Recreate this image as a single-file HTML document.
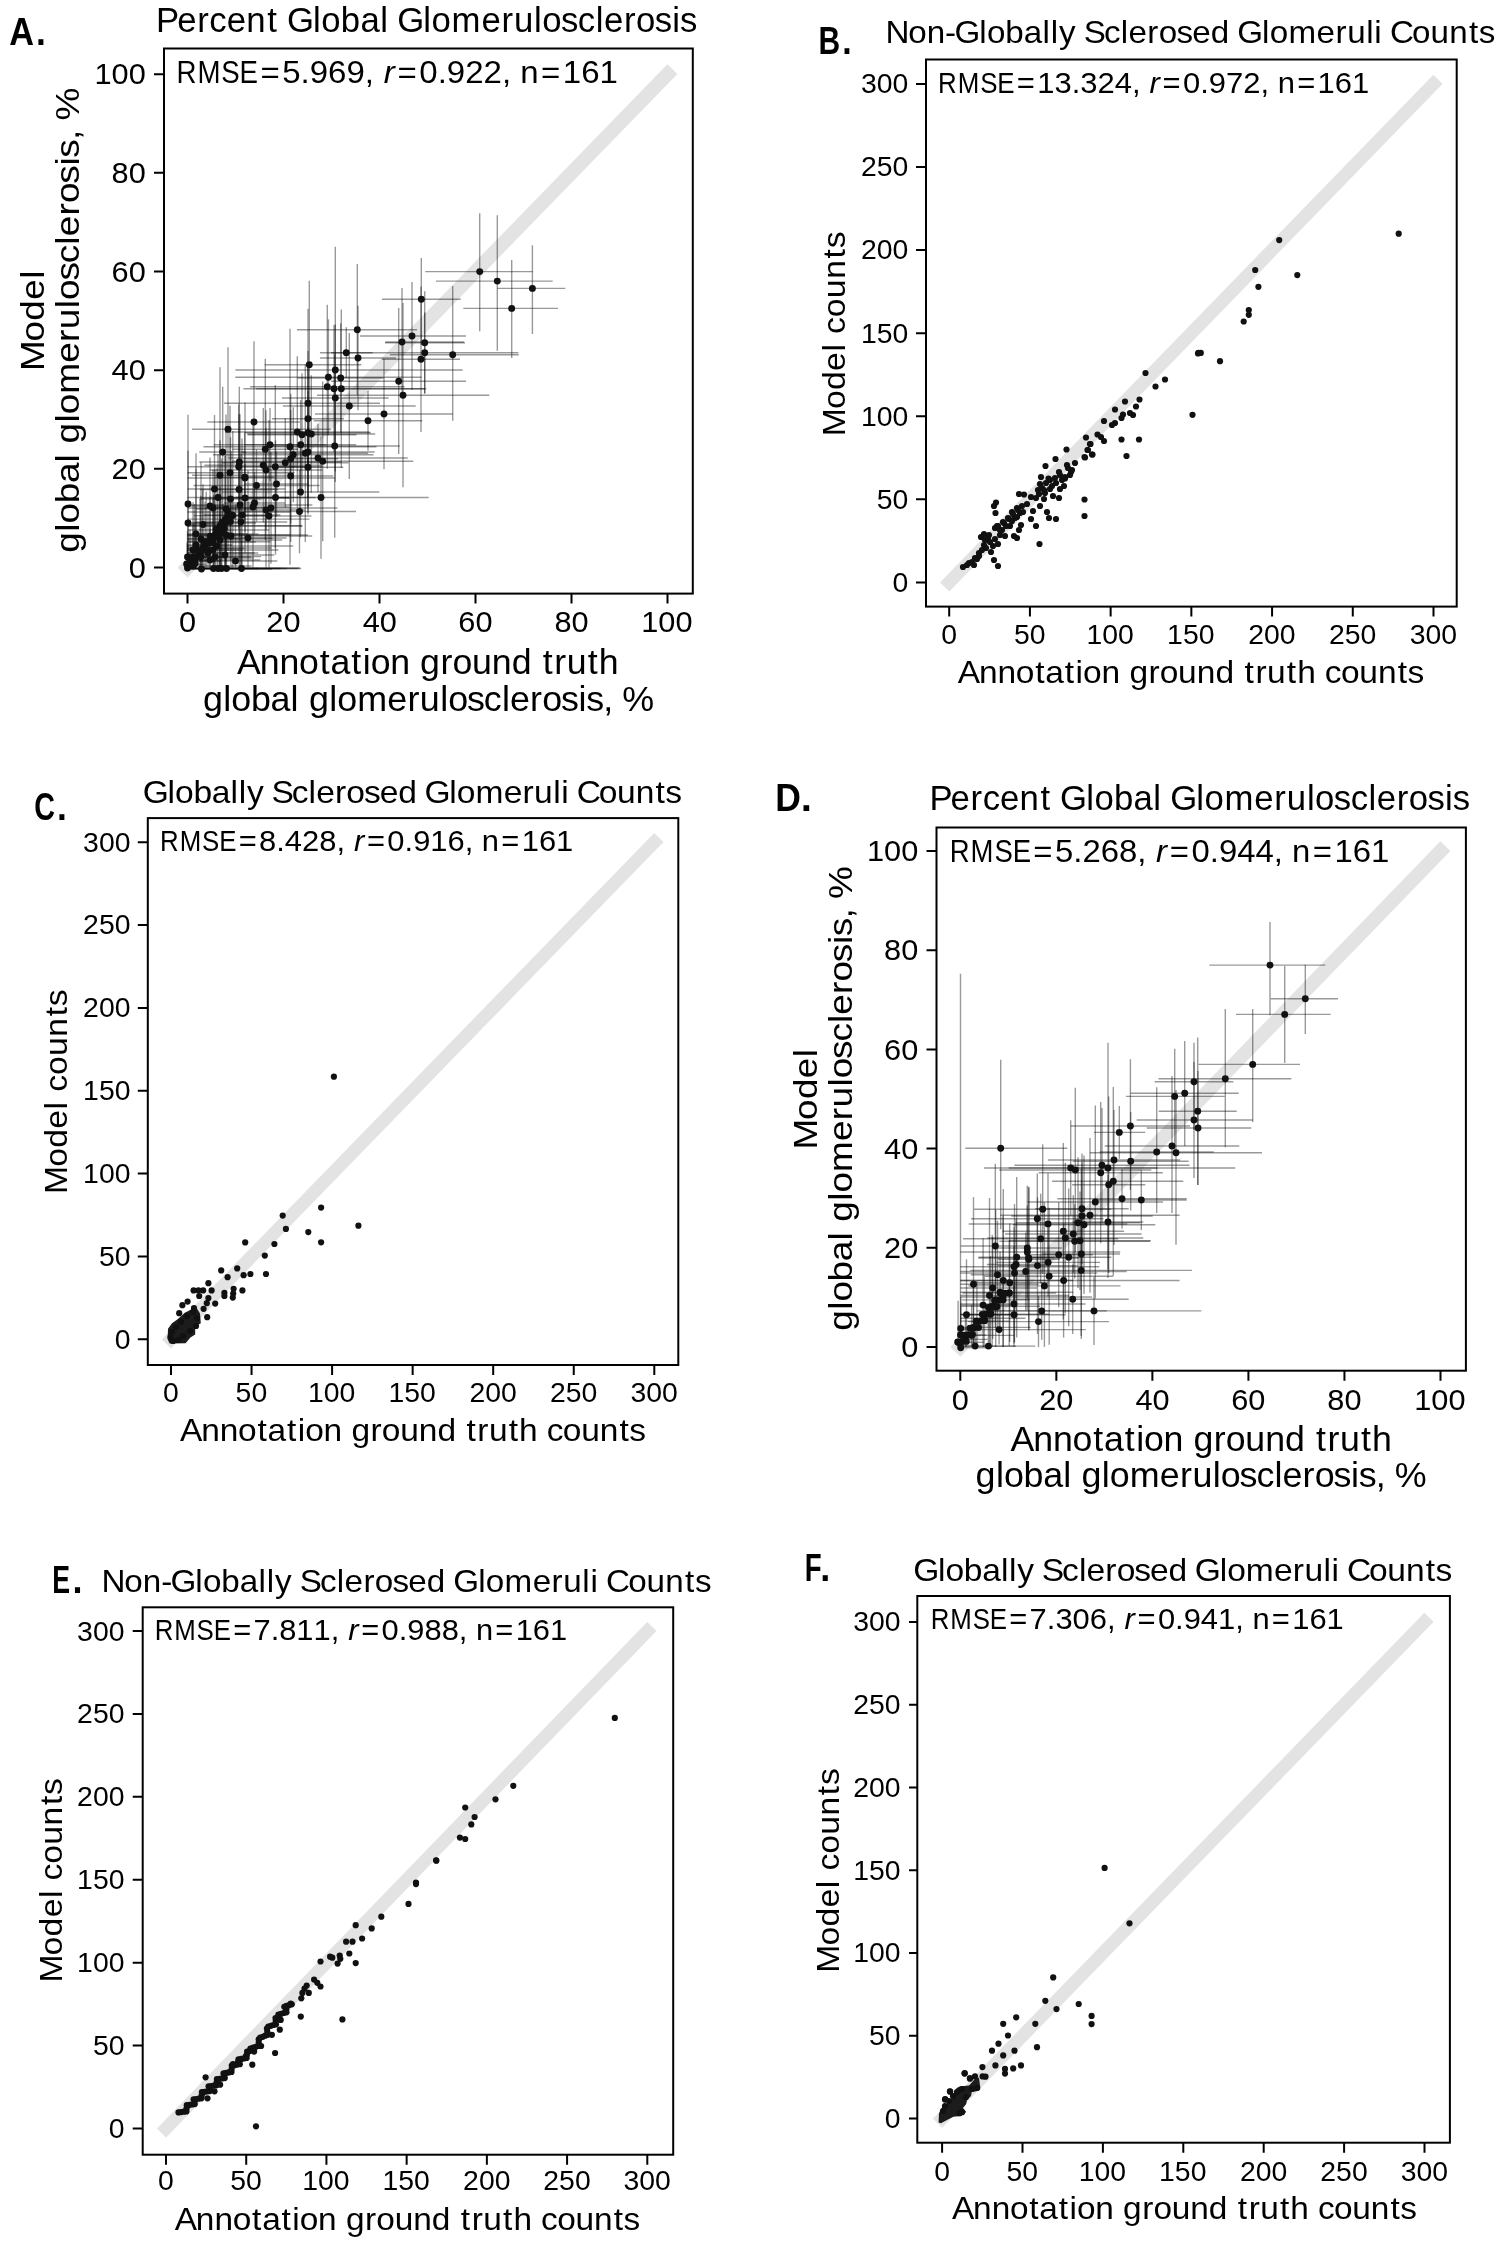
<!DOCTYPE html>
<html><head><meta charset="utf-8"><title>Glomerulosclerosis model vs annotation</title>
<style>
html,body{margin:0;padding:0;background:#fff;width:1500px;height:2244px;overflow:hidden}
svg{display:block;filter:blur(0.4px)}
text{font-family:"Liberation Sans", sans-serif;fill:#000}
</style></head>
<body>
<svg width="1500" height="2244" viewBox="0 0 1500 2244">
<rect width="1500" height="2244" fill="#fff"/>
<g id="panelA">
<line x1="187.5" y1="567.5" x2="667.5" y2="74.2" stroke="#e3e3e3" stroke-width="14" stroke-linecap="square"/>
<g stroke="#000" stroke-opacity="0.4" stroke-width="1.4" fill="none">
<path d="M425.3 271.6H532.7"/>
<path d="M479.7 213.3V331.3"/>
<path d="M436 281.1H552.7"/>
<path d="M497.3 215.3V350.7"/>
<path d="M497.3 288.4H565.3"/>
<path d="M532.4 245.3V334"/>
<path d="M463.3 308.4H558"/>
<path d="M511.7 260V358"/>
<path d="M382 299.3H460.7"/>
<path d="M421.3 258V345"/>
<path d="M390 354.7H518.7"/>
<path d="M452.7 286V420.7"/>
<path d="M360 336H466"/>
<path d="M412 282V390"/>
<path d="M385.3 342H464"/>
<path d="M402 288V396"/>
<path d="M385 342.7H465"/>
<path d="M424.7 291.3V394"/>
<path d="M331 352.7H518.4"/>
<path d="M424.7 312.5V392.9"/>
<path d="M382 359.3H460"/>
<path d="M421 286.7V431.9"/>
<path d="M297 329.7H417"/>
<path d="M357.3 264V395"/>
<path d="M320 352.7H372.6"/>
<path d="M346.3 327.3V378.1"/>
<path d="M319.9 358H396.1"/>
<path d="M358 305.7V410.3"/>
<path d="M331 381.3H466"/>
<path d="M398.7 308V454"/>
<path d="M317 395.3H489.3"/>
<path d="M403 303V487.3"/>
<path d="M315 414H452.7"/>
<path d="M384 359V469.3"/>
<path d="M313.7 420.7H422.3"/>
<path d="M368 391V450.7"/>
<path d="M235.3 370H462.7"/>
<path d="M335.3 246.7V482"/>
<path d="M264.7 364.7H361.3"/>
<path d="M309.3 280.7V448.7"/>
<path d="M235.2 377.3H421.6"/>
<path d="M328.4 319.3V435.3"/>
<path d="M297.8 378H383.6"/>
<path d="M340.7 323.3V432.7"/>
<path d="M250.1 386.7H404.5"/>
<path d="M327.3 304.7V468.7"/>
<path d="M243.4 388.7H424.6"/>
<path d="M334 324.9V452.5"/>
<path d="M256.2 388.7H426.4"/>
<path d="M341.3 309.4V468"/>
<path d="M281.9 398H388.7"/>
<path d="M335.3 324.5V471.5"/>
<path d="M224 403.3H380"/>
<path d="M308 308.7V497.9"/>
<path d="M282.9 406H415.7"/>
<path d="M349.3 333V479"/>
<path d="M272 418.7H344"/>
<path d="M308 367.7V469.7"/>
<path d="M207.3 422H300"/>
<path d="M254 341.3V502.7"/>
<path d="M192 429.3H330.7"/>
<path d="M228 347.3V511.3"/>
<path d="M225 432H369.6"/>
<path d="M297.3 356.3V507.7"/>
<path d="M247.4 434.7H356.6"/>
<path d="M302 373.3V496.1"/>
<path d="M245.2 432.7H370.8"/>
<path d="M308 351V514.4"/>
<path d="M247.4 434H375.2"/>
<path d="M311.3 375.2V492.8"/>
<path d="M213.6 444.7H326.4"/>
<path d="M270 408.1V481.3"/>
<path d="M232.5 449.3H298.1"/>
<path d="M265.3 358.7V539.9"/>
<path d="M203.5 446.7H376.5"/>
<path d="M290 328.7V564.7"/>
<path d="M245.2 444.7H356.2"/>
<path d="M300.7 399.9V489.5"/>
<path d="M269.6 446H399.8"/>
<path d="M334.7 354.3V537.7"/>
<path d="M199.3 452H246.1"/>
<path d="M222.7 386.7V517.3"/>
<path d="M213 454.7H373.6"/>
<path d="M293.3 407.2V502.2"/>
<path d="M242.5 453.3H368.1"/>
<path d="M305.3 364.5V542.1"/>
<path d="M241.3 452H374.7"/>
<path d="M308 391.3V512.7"/>
<path d="M243.2 458.7H338.2"/>
<path d="M290.7 393.8V523.6"/>
<path d="M228.2 458H407.8"/>
<path d="M318 423.7V492.3"/>
<path d="M232.1 461.3H413.3"/>
<path d="M322.7 381.4V541.2"/>
<path d="M199.3 462H341.3"/>
<path d="M239.3 386.7V537.3"/>
<path d="M187.5 466.7H322.7"/>
<path d="M238.7 404.6V528.8"/>
<path d="M204.4 465.3H322.2"/>
<path d="M263.3 408.1V522.5"/>
<path d="M240.8 466.7H309.8"/>
<path d="M275.3 385.1V548.3"/>
<path d="M222.1 462.7H348.5"/>
<path d="M285.3 417.9V507.5"/>
<path d="M209.5 470H322.5"/>
<path d="M266 410.2V529.8"/>
<path d="M272.7 467.3H343.3"/>
<path d="M308 427.3V507.3"/>
<path d="M187.5 472.7H294.7"/>
<path d="M230 405.8V539.6"/>
<path d="M192 475.3H248"/>
<path d="M220 367.3V567.5"/>
<path d="M215.1 477.3H274.3"/>
<path d="M244.7 432.5V522.1"/>
<path d="M248.2 476H333.2"/>
<path d="M290.7 410V542"/>
<path d="M187.5 478H334.8"/>
<path d="M245 402.6V553.4"/>
<path d="M187.5 489H285.5"/>
<path d="M214.5 415V563"/>
<path d="M199.7 489.5H278.3"/>
<path d="M239 414.3V564.7"/>
<path d="M193.5 485.5H319.5"/>
<path d="M256.5 449.4V521.6"/>
<path d="M244 484H309"/>
<path d="M276.5 451.4V516.6"/>
<path d="M187.5 497.5H289"/>
<path d="M218 454.4V540.6"/>
<path d="M199.4 499H261.6"/>
<path d="M230.5 437.2V560.8"/>
<path d="M200.4 498H289.6"/>
<path d="M245 464.1V531.9"/>
<path d="M235.5 497.5H315.5"/>
<path d="M275.5 440.3V554.7"/>
<path d="M221.7 492H379.3"/>
<path d="M300.5 446.9V537.1"/>
<path d="M213.3 497.5H428.7"/>
<path d="M321 436.3V558.7"/>
<path d="M187.5 504H188.5"/>
<path d="M188 414.7V567.5"/>
<path d="M187.5 506H240.4"/>
<path d="M210 457.6V554.4"/>
<path d="M187.5 508H264.2"/>
<path d="M213 469.7V546.3"/>
<path d="M195.8 509H256.2"/>
<path d="M226 414.6V567.5"/>
<path d="M187.5 512H290.4"/>
<path d="M228 473.3V550.7"/>
<path d="M187.5 505H312.4"/>
<path d="M240 414.2V567.5"/>
<path d="M224 503H285"/>
<path d="M254.5 472.3V533.7"/>
<path d="M216.5 507H289.5"/>
<path d="M253 423.2V567.5"/>
<path d="M227.1 510H304.9"/>
<path d="M266 428.2V567.5"/>
<path d="M204.6 508H337.4"/>
<path d="M271 452.3V563.7"/>
<path d="M226.6 516H311.4"/>
<path d="M269 420V567.5"/>
<path d="M243 511.5H356"/>
<path d="M299.5 469.7V553.3"/>
<path d="M203.6 515H280.4"/>
<path d="M242 438.5V567.5"/>
<path d="M194.8 522H287.2"/>
<path d="M241 452.6V567.5"/>
<path d="M187.5 523H214.3"/>
<path d="M188 450.7V567.5"/>
<path d="M187.5 524.5H232.5"/>
<path d="M203 484.3V564.7"/>
<path d="M187.5 534H258.4"/>
<path d="M196 453.3V567.5"/>
<path d="M187.5 539H240.5"/>
<path d="M201 462.3V567.5"/>
<path d="M187.5 545H232.2"/>
<path d="M196 468.4V567.5"/>
<path d="M187.5 550H242.6"/>
<path d="M193 502.2V567.5"/>
<path d="M187.5 530H269.3"/>
<path d="M223 503.7V556.3"/>
<path d="M187.5 535H308"/>
<path d="M226 508.4V561.6"/>
<path d="M187.5 536H312.2"/>
<path d="M231 451.8V567.5"/>
<path d="M187.5 540H282.2"/>
<path d="M220 499.8V567.5"/>
<path d="M187.5 546H293.2"/>
<path d="M217 468.5V567.5"/>
<path d="M187.5 550H278.4"/>
<path d="M213 497.9V567.5"/>
<path d="M187.5 553H254.6"/>
<path d="M208 510.2V567.5"/>
<path d="M209.4 538H286.6"/>
<path d="M248 470.4V567.5"/>
<path d="M187.5 560H260.3"/>
<path d="M210 528.4V567.5"/>
<path d="M187.5 557H251"/>
<path d="M215 503.4V567.5"/>
<path d="M187.5 555H274.4"/>
<path d="M225 506.8V567.5"/>
<path d="M193.7 561H277.3"/>
<path d="M235.5 503.9V567.5"/>
<path d="M187.5 557H224.9"/>
<path d="M187.5 530.8V567.5"/>
<path d="M187.5 568H300"/>
<path d="M187.5 544.2V567.5"/>
<path d="M187.5 566H251.6"/>
<path d="M193 521.7V567.5"/>
<path d="M187.5 569H272"/>
<path d="M201.5 548.1V567.5"/>
<path d="M187.5 568.5H259"/>
<path d="M213.5 531.6V567.5"/>
<path d="M187.5 568.5H298.2"/>
<path d="M218 544.3V567.5"/>
<path d="M187.5 568.5H301.2"/>
<path d="M221.5 535.5V567.5"/>
<path d="M187.5 568.5H286.9"/>
<path d="M226.5 527.8V567.5"/>
<path d="M202.7 568.5H280.3"/>
<path d="M241.5 534.5V567.5"/>
<path d="M187.5 560H212.6"/>
<path d="M190 529.4V567.5"/>
<path d="M187.5 558H253.8"/>
<path d="M195 524.2V567.5"/>
<path d="M187.5 553H258.2"/>
<path d="M200 498.8V567.5"/>
<path d="M187.5 548H271.3"/>
<path d="M205 501.4V567.5"/>
<path d="M187.5 542H255.8"/>
<path d="M210 496.4V567.5"/>
<path d="M187.5 535H289.9"/>
<path d="M215 469.6V567.5"/>
<path d="M187.5 526H302.7"/>
<path d="M220 440.2V567.5"/>
<path d="M193.8 523H256.2"/>
<path d="M225 455.4V567.5"/>
<path d="M187.5 564.4H204.7"/>
<path d="M187.1 542.2V567.5"/>
<path d="M187.5 561H220.4"/>
<path d="M194.5 504V567.5"/>
<path d="M187.5 556.6H261.1"/>
<path d="M200.8 495.7V567.5"/>
<path d="M187.5 548.4H244.5"/>
<path d="M202.6 490.1V567.5"/>
<path d="M187.5 541.7H270.7"/>
<path d="M206.2 491.5V567.5"/>
<path d="M187.5 538.3H272.7"/>
<path d="M213.7 494.7V567.5"/>
<path d="M192.1 533.9H247.8"/>
<path d="M220 486.5V567.5"/>
<path d="M187.5 525.7H302"/>
<path d="M221.7 458.4V567.5"/>
<path d="M187.5 519.1H309.5"/>
<path d="M225.3 455.6V567.5"/>
<path d="M193.8 515.6H271.8"/>
<path d="M232.8 431V567.5"/>
</g>
<g fill="#111">
<circle cx="479.7" cy="271.6" r="3.45"/>
<circle cx="497.3" cy="281.1" r="3.45"/>
<circle cx="532.4" cy="288.4" r="3.45"/>
<circle cx="511.7" cy="308.4" r="3.45"/>
<circle cx="421.3" cy="299.3" r="3.45"/>
<circle cx="452.7" cy="354.7" r="3.45"/>
<circle cx="412" cy="336" r="3.45"/>
<circle cx="402" cy="342" r="3.45"/>
<circle cx="424.7" cy="342.7" r="3.45"/>
<circle cx="424.7" cy="352.7" r="3.45"/>
<circle cx="421" cy="359.3" r="3.45"/>
<circle cx="357.3" cy="329.7" r="3.45"/>
<circle cx="346.3" cy="352.7" r="3.45"/>
<circle cx="358" cy="358" r="3.45"/>
<circle cx="398.7" cy="381.3" r="3.45"/>
<circle cx="403" cy="395.3" r="3.45"/>
<circle cx="384" cy="414" r="3.45"/>
<circle cx="368" cy="420.7" r="3.45"/>
<circle cx="335.3" cy="370" r="3.45"/>
<circle cx="309.3" cy="364.7" r="3.45"/>
<circle cx="328.4" cy="377.3" r="3.45"/>
<circle cx="340.7" cy="378" r="3.45"/>
<circle cx="327.3" cy="386.7" r="3.45"/>
<circle cx="334" cy="388.7" r="3.45"/>
<circle cx="341.3" cy="388.7" r="3.45"/>
<circle cx="335.3" cy="398" r="3.45"/>
<circle cx="308" cy="403.3" r="3.45"/>
<circle cx="349.3" cy="406" r="3.45"/>
<circle cx="308" cy="418.7" r="3.45"/>
<circle cx="254" cy="422" r="3.45"/>
<circle cx="228" cy="429.3" r="3.45"/>
<circle cx="297.3" cy="432" r="3.45"/>
<circle cx="302" cy="434.7" r="3.45"/>
<circle cx="308" cy="432.7" r="3.45"/>
<circle cx="311.3" cy="434" r="3.45"/>
<circle cx="270" cy="444.7" r="3.45"/>
<circle cx="265.3" cy="449.3" r="3.45"/>
<circle cx="290" cy="446.7" r="3.45"/>
<circle cx="300.7" cy="444.7" r="3.45"/>
<circle cx="334.7" cy="446" r="3.45"/>
<circle cx="222.7" cy="452" r="3.45"/>
<circle cx="293.3" cy="454.7" r="3.45"/>
<circle cx="305.3" cy="453.3" r="3.45"/>
<circle cx="308" cy="452" r="3.45"/>
<circle cx="290.7" cy="458.7" r="3.45"/>
<circle cx="318" cy="458" r="3.45"/>
<circle cx="322.7" cy="461.3" r="3.45"/>
<circle cx="239.3" cy="462" r="3.45"/>
<circle cx="238.7" cy="466.7" r="3.45"/>
<circle cx="263.3" cy="465.3" r="3.45"/>
<circle cx="275.3" cy="466.7" r="3.45"/>
<circle cx="285.3" cy="462.7" r="3.45"/>
<circle cx="266" cy="470" r="3.45"/>
<circle cx="308" cy="467.3" r="3.45"/>
<circle cx="230" cy="472.7" r="3.45"/>
<circle cx="220" cy="475.3" r="3.45"/>
<circle cx="244.7" cy="477.3" r="3.45"/>
<circle cx="290.7" cy="476" r="3.45"/>
<circle cx="245" cy="478" r="3.45"/>
<circle cx="214.5" cy="489" r="3.45"/>
<circle cx="239" cy="489.5" r="3.45"/>
<circle cx="256.5" cy="485.5" r="3.45"/>
<circle cx="276.5" cy="484" r="3.45"/>
<circle cx="218" cy="497.5" r="3.45"/>
<circle cx="230.5" cy="499" r="3.45"/>
<circle cx="245" cy="498" r="3.45"/>
<circle cx="275.5" cy="497.5" r="3.45"/>
<circle cx="300.5" cy="492" r="3.45"/>
<circle cx="321" cy="497.5" r="3.45"/>
<circle cx="188" cy="504" r="3.45"/>
<circle cx="210" cy="506" r="3.45"/>
<circle cx="213" cy="508" r="3.45"/>
<circle cx="226" cy="509" r="3.45"/>
<circle cx="228" cy="512" r="3.45"/>
<circle cx="240" cy="505" r="3.45"/>
<circle cx="254.5" cy="503" r="3.45"/>
<circle cx="253" cy="507" r="3.45"/>
<circle cx="266" cy="510" r="3.45"/>
<circle cx="271" cy="508" r="3.45"/>
<circle cx="269" cy="516" r="3.45"/>
<circle cx="299.5" cy="511.5" r="3.45"/>
<circle cx="242" cy="515" r="3.45"/>
<circle cx="241" cy="522" r="3.45"/>
<circle cx="188" cy="523" r="3.45"/>
<circle cx="203" cy="524.5" r="3.45"/>
<circle cx="196" cy="534" r="3.45"/>
<circle cx="201" cy="539" r="3.45"/>
<circle cx="196" cy="545" r="3.45"/>
<circle cx="193" cy="550" r="3.45"/>
<circle cx="223" cy="530" r="3.45"/>
<circle cx="226" cy="535" r="3.45"/>
<circle cx="231" cy="536" r="3.45"/>
<circle cx="220" cy="540" r="3.45"/>
<circle cx="217" cy="546" r="3.45"/>
<circle cx="213" cy="550" r="3.45"/>
<circle cx="208" cy="553" r="3.45"/>
<circle cx="248" cy="538" r="3.45"/>
<circle cx="210" cy="560" r="3.45"/>
<circle cx="215" cy="557" r="3.45"/>
<circle cx="225" cy="555" r="3.45"/>
<circle cx="235.5" cy="561" r="3.45"/>
<circle cx="187.5" cy="557" r="3.45"/>
<circle cx="187.5" cy="568" r="3.45"/>
<circle cx="193" cy="566" r="3.45"/>
<circle cx="201.5" cy="569" r="3.45"/>
<circle cx="213.5" cy="568.5" r="3.45"/>
<circle cx="218" cy="568.5" r="3.45"/>
<circle cx="221.5" cy="568.5" r="3.45"/>
<circle cx="226.5" cy="568.5" r="3.45"/>
<circle cx="241.5" cy="568.5" r="3.45"/>
<circle cx="190" cy="560" r="3.45"/>
<circle cx="195" cy="558" r="3.45"/>
<circle cx="200" cy="553" r="3.45"/>
<circle cx="205" cy="548" r="3.45"/>
<circle cx="210" cy="542" r="3.45"/>
<circle cx="215" cy="535" r="3.45"/>
<circle cx="220" cy="526" r="3.45"/>
<circle cx="225" cy="523" r="3.45"/>
<circle cx="187.1" cy="564.4" r="3.45"/>
<circle cx="194.5" cy="561" r="3.45"/>
<circle cx="200.8" cy="556.6" r="3.45"/>
<circle cx="202.6" cy="548.4" r="3.45"/>
<circle cx="206.2" cy="541.7" r="3.45"/>
<circle cx="213.7" cy="538.3" r="3.45"/>
<circle cx="220" cy="533.9" r="3.45"/>
<circle cx="221.7" cy="525.7" r="3.45"/>
<circle cx="225.3" cy="519.1" r="3.45"/>
<circle cx="232.8" cy="515.6" r="3.45"/>
<circle cx="186.71" cy="564.07" r="3.45"/>
<circle cx="190.95" cy="563.68" r="3.45"/>
<circle cx="195.2" cy="563.3" r="3.45"/>
<circle cx="192.57" cy="557.11" r="3.45"/>
<circle cx="196.82" cy="556.73" r="3.45"/>
<circle cx="201.07" cy="556.34" r="3.45"/>
<circle cx="198.43" cy="550.16" r="3.45"/>
<circle cx="202.68" cy="549.77" r="3.45"/>
<circle cx="206.93" cy="549.39" r="3.45"/>
<circle cx="204.3" cy="543.2" r="3.45"/>
<circle cx="208.55" cy="542.82" r="3.45"/>
<circle cx="212.79" cy="542.43" r="3.45"/>
<circle cx="210.16" cy="536.25" r="3.45"/>
<circle cx="214.41" cy="535.86" r="3.45"/>
<circle cx="218.66" cy="535.48" r="3.45"/>
<circle cx="216.02" cy="529.29" r="3.45"/>
<circle cx="220.27" cy="528.91" r="3.45"/>
<circle cx="224.52" cy="528.52" r="3.45"/>
<circle cx="221.89" cy="522.34" r="3.45"/>
<circle cx="226.14" cy="521.95" r="3.45"/>
<circle cx="230.38" cy="521.57" r="3.45"/>
<circle cx="227.75" cy="515.38" r="3.45"/>
<circle cx="232" cy="515" r="3.45"/>
</g>
<rect x="164" y="48.5" width="528.8" height="545.1" fill="none" stroke="#000" stroke-width="2"/>
<path d="M187.5 593.6v10M164 567.5h-10M283.5 593.6v10M164 468.84h-10M379.5 593.6v10M164 370.18h-10M475.5 593.6v10M164 271.52h-10M571.5 593.6v10M164 172.86h-10M667.5 593.6v10M164 74.2h-10" stroke="#000" stroke-width="2" fill="none"/>
<text transform="scale(1.05049,1)" x="170.36" y="632.2" font-size="29.24">0</text>
<text transform="scale(1.05049,1)" x="122.51" y="577.7" font-size="29.24">0</text>
<text transform="scale(1.05049,1)" x="253.52 269.79" y="632.2" font-size="29.24">20</text>
<text transform="scale(1.05049,1)" x="106.25 122.51" y="479.04" font-size="29.24">20</text>
<text transform="scale(1.05049,1)" x="345.22 361.48" y="632.2" font-size="29.24">40</text>
<text transform="scale(1.05049,1)" x="106.25 122.51" y="380.38" font-size="29.24">40</text>
<text transform="scale(1.05049,1)" x="436.34 452.6" y="632.2" font-size="29.24">60</text>
<text transform="scale(1.05049,1)" x="106.25 122.51" y="281.72" font-size="29.24">60</text>
<text transform="scale(1.05049,1)" x="527.75 544.01" y="632.2" font-size="29.24">80</text>
<text transform="scale(1.05049,1)" x="106.25 122.51" y="183.06" font-size="29.24">80</text>
<text transform="scale(1.05049,1)" x="610.47 626.73 642.99" y="632.2" font-size="29.24">100</text>
<text transform="scale(1.05049,1)" x="89.99 106.25 122.51" y="84.4" font-size="29.24">100</text>
<text x="9.25" y="45.1" font-size="39" textLength="24.76" lengthAdjust="spacingAndGlyphs" font-weight="bold">A</text>
<text x="36.1" y="45.1" font-size="39" textLength="9.84" lengthAdjust="spacingAndGlyphs" font-weight="bold">.</text>
<text transform="scale(1.01656,1)" x="153.56 174.28 193.96 205.95 223 242.3 262.92 273.89 282.23 308 316.04 335.31 354.59 374.07 382.32 390.66 416.43 424.47 444.25 473.55 493.23 505.56 525.36 533.4 551.87 568.42 585.96 594.05 613.73 625.72 644.19 661.29 668.88" y="32" font-size="34.19">Percent Global Glomerulosclerosis</text>
<text transform="scale(0.87975,1)" x="200.53 224.36 251.55 272.35" y="83.4" font-size="31.42">RMSE</text><text transform="scale(1.05174,1)" x="247.58 268.26 285.74 294.46 311.94 329.41 346.88 355.61 364.76 377.97 398.65 416.12 424.85 442.32 459.79 477.27 486 494.69 514.47 535.14 552.62 570.09" y="83.4" font-size="31.42">=5.969, <tspan font-style="italic">r</tspan>=0.922, n=161</text>
<text transform="scale(1.04407,1)" x="227.06 248.72 267.74 286.43 306.25 316.57 336.4 347.4 355.04 373.73 392.77 402.3 421.81 433.34 452.03 471.04 490.08 509.13 519.78 530.89 542.75 562.9 573.53" y="673.7" font-size="34.19">Annotation ground truth</text>
<text transform="scale(1.04956,1)" x="193.39 212.78 220.41 239.09 257.8 276.86 284.84 294.36 313.75 321.38 340.42 368.98 388.18 400.03 419.41 427.04 444.98 461.03 478.19 485.87 505.07 516.59 534.53 551.26 558.48 574.86 584.39 592.94" y="710.9" font-size="34.19">global glomerulosclerosis, %</text>
<g transform="rotate(-90)"><text transform="scale(1.10687,1)" x="-335.22 -308.43 -289.68 -270.87 -251.88" y="44.3" font-size="33.28">Model</text></g>
<g transform="rotate(-90)"><text transform="scale(1.11158,1)" x="-497.3 -478.42 -471 -452.81 -434.6 -416.05 -408.28 -399.01 -380.14 -372.71 -354.18 -326.38 -307.69 -296.15 -277.29 -269.87 -252.41 -236.78 -220.08 -212.61 -193.92 -182.7 -165.24 -148.96 -141.92 -125.99 -116.71 -108.38" y="78.8" font-size="33.28">global glomerulosclerosis, %</text></g>
</g>
<g id="panelB">
<line x1="949.2" y1="582.4" x2="1433.5" y2="83.9" stroke="#e3e3e3" stroke-width="13" stroke-linecap="square"/>
<g fill="#111">
<circle cx="1066.5" cy="449.5" r="3.1"/>
<circle cx="1055.5" cy="459" r="3.1"/>
<circle cx="1045.5" cy="466" r="3.1"/>
<circle cx="1090" cy="444" r="3.1"/>
<circle cx="1092" cy="454.5" r="3.1"/>
<circle cx="1085" cy="457.5" r="3.1"/>
<circle cx="1087.5" cy="450" r="3.1"/>
<circle cx="1075" cy="463" r="3.1"/>
<circle cx="1067" cy="465" r="3.1"/>
<circle cx="1072" cy="470" r="3.1"/>
<circle cx="1059" cy="472" r="3.1"/>
<circle cx="1070" cy="475" r="3.1"/>
<circle cx="1065" cy="478.5" r="3.1"/>
<circle cx="1041" cy="477" r="3.1"/>
<circle cx="1048.5" cy="478.5" r="3.1"/>
<circle cx="1040" cy="484" r="3.1"/>
<circle cx="1046" cy="483" r="3.1"/>
<circle cx="1056" cy="483" r="3.1"/>
<circle cx="1064" cy="486" r="3.1"/>
<circle cx="1050" cy="489" r="3.1"/>
<circle cx="1060" cy="489" r="3.1"/>
<circle cx="1039" cy="494" r="3.1"/>
<circle cx="1045" cy="493" r="3.1"/>
<circle cx="1053" cy="496" r="3.1"/>
<circle cx="1059" cy="498" r="3.1"/>
<circle cx="1044" cy="499" r="3.1"/>
<circle cx="1031" cy="497" r="3.1"/>
<circle cx="1019" cy="494" r="3.1"/>
<circle cx="1024" cy="494.5" r="3.1"/>
<circle cx="1040" cy="506" r="3.1"/>
<circle cx="1084.5" cy="499.5" r="3.1"/>
<circle cx="1084.5" cy="516" r="3.1"/>
<circle cx="996" cy="502.5" r="3.1"/>
<circle cx="994" cy="506" r="3.1"/>
<circle cx="995.5" cy="513" r="3.1"/>
<circle cx="1027" cy="504" r="3.1"/>
<circle cx="1017" cy="508" r="3.1"/>
<circle cx="1012" cy="512" r="3.1"/>
<circle cx="1020" cy="513" r="3.1"/>
<circle cx="1015" cy="518" r="3.1"/>
<circle cx="1033" cy="511" r="3.1"/>
<circle cx="1031" cy="519" r="3.1"/>
<circle cx="1047" cy="512" r="3.1"/>
<circle cx="1049" cy="518" r="3.1"/>
<circle cx="1056" cy="519" r="3.1"/>
<circle cx="1036" cy="526" r="3.1"/>
<circle cx="1009" cy="519" r="3.1"/>
<circle cx="1004" cy="523" r="3.1"/>
<circle cx="997" cy="526" r="3.1"/>
<circle cx="1010" cy="526" r="3.1"/>
<circle cx="1021" cy="525" r="3.1"/>
<circle cx="1019" cy="530" r="3.1"/>
<circle cx="1014" cy="536" r="3.1"/>
<circle cx="1017" cy="538" r="3.1"/>
<circle cx="1002" cy="530" r="3.1"/>
<circle cx="995" cy="528" r="3.1"/>
<circle cx="1005" cy="536" r="3.1"/>
<circle cx="1000" cy="535" r="3.1"/>
<circle cx="984" cy="534" r="3.1"/>
<circle cx="981" cy="537" r="3.1"/>
<circle cx="989" cy="535" r="3.1"/>
<circle cx="995" cy="539" r="3.1"/>
<circle cx="998" cy="544" r="3.1"/>
<circle cx="990" cy="542" r="3.1"/>
<circle cx="984" cy="545" r="3.1"/>
<circle cx="986" cy="548" r="3.1"/>
<circle cx="993" cy="546" r="3.1"/>
<circle cx="991" cy="552" r="3.1"/>
<circle cx="1039.5" cy="544" r="3.1"/>
<circle cx="979" cy="553" r="3.1"/>
<circle cx="977" cy="559" r="3.1"/>
<circle cx="972" cy="562" r="3.1"/>
<circle cx="967" cy="565" r="3.1"/>
<circle cx="963" cy="567" r="3.1"/>
<circle cx="974" cy="565" r="3.1"/>
<circle cx="994" cy="560" r="3.1"/>
<circle cx="998" cy="566" r="3.1"/>
<circle cx="1198" cy="353.5" r="3.1"/>
<circle cx="1145.5" cy="373" r="3.1"/>
<circle cx="1165" cy="379.5" r="3.1"/>
<circle cx="1155.5" cy="386.5" r="3.1"/>
<circle cx="1125" cy="401.5" r="3.1"/>
<circle cx="1139.5" cy="399.5" r="3.1"/>
<circle cx="1136" cy="406.5" r="3.1"/>
<circle cx="1115" cy="409.5" r="3.1"/>
<circle cx="1123" cy="414.5" r="3.1"/>
<circle cx="1121.5" cy="418" r="3.1"/>
<circle cx="1130" cy="413" r="3.1"/>
<circle cx="1133" cy="415" r="3.1"/>
<circle cx="1192.5" cy="414.8" r="3.1"/>
<circle cx="1104" cy="421" r="3.1"/>
<circle cx="1115" cy="423" r="3.1"/>
<circle cx="1112" cy="425" r="3.1"/>
<circle cx="1086" cy="437.5" r="3.1"/>
<circle cx="1097.5" cy="434.5" r="3.1"/>
<circle cx="1101" cy="437" r="3.1"/>
<circle cx="1104" cy="441" r="3.1"/>
<circle cx="1121.5" cy="439.5" r="3.1"/>
<circle cx="1139" cy="439.5" r="3.1"/>
<circle cx="1126.5" cy="456" r="3.1"/>
<circle cx="1090.5" cy="444" r="3.1"/>
<circle cx="1088" cy="450" r="3.1"/>
<circle cx="1084.5" cy="457" r="3.1"/>
<circle cx="1092.5" cy="454.5" r="3.1"/>
<circle cx="1071" cy="472" r="3.1"/>
<circle cx="1065" cy="477" r="3.1"/>
<circle cx="1279.2" cy="240.1" r="3.1"/>
<circle cx="1398.7" cy="233.7" r="3.1"/>
<circle cx="1255.2" cy="270" r="3.1"/>
<circle cx="1297.3" cy="275.1" r="3.1"/>
<circle cx="1258.4" cy="286.8" r="3.1"/>
<circle cx="1248.8" cy="310" r="3.1"/>
<circle cx="1248.8" cy="314.8" r="3.1"/>
<circle cx="1243.7" cy="321.5" r="3.1"/>
<circle cx="1198.4" cy="352.9" r="3.1"/>
<circle cx="1200.8" cy="352.9" r="3.1"/>
<circle cx="1220" cy="361.2" r="3.1"/>
<circle cx="998" cy="526" r="3.1"/>
<circle cx="1003" cy="522" r="3.1"/>
<circle cx="1008" cy="518" r="3.1"/>
<circle cx="1013" cy="514" r="3.1"/>
<circle cx="1018" cy="510" r="3.1"/>
<circle cx="1022" cy="506" r="3.1"/>
<circle cx="1000" cy="530" r="3.1"/>
<circle cx="1006" cy="526" r="3.1"/>
<circle cx="1012" cy="521" r="3.1"/>
<circle cx="1017" cy="517" r="3.1"/>
<circle cx="1023" cy="512" r="3.1"/>
<circle cx="985" cy="540" r="3.1"/>
<circle cx="988" cy="538" r="3.1"/>
<circle cx="1036" cy="498" r="3.1"/>
<circle cx="1038" cy="490" r="3.1"/>
<circle cx="1042" cy="488" r="3.1"/>
<circle cx="1050" cy="480" r="3.1"/>
<circle cx="1055" cy="478" r="3.1"/>
<circle cx="1060" cy="475" r="3.1"/>
<circle cx="969" cy="563" r="3.1"/>
<circle cx="975" cy="558" r="3.1"/>
<circle cx="979" cy="556" r="3.1"/>
<circle cx="982" cy="550" r="3.1"/>
<circle cx="1044" cy="490" r="3.1"/>
<circle cx="1052" cy="486" r="3.1"/>
<circle cx="1062" cy="480" r="3.1"/>
<circle cx="1068" cy="468" r="3.1"/>
</g>
<rect x="926" y="59.5" width="530.7" height="547.1" fill="none" stroke="#000" stroke-width="2"/>
<path d="M949.2 606.6v10M926 582.4h-10M1029.92 606.6v10M926 499.32h-10M1110.63 606.6v10M926 416.23h-10M1191.35 606.6v10M926 333.15h-10M1272.07 606.6v10M926 250.07h-10M1352.78 606.6v10M926 166.98h-10M1433.5 606.6v10M926 83.9h-10" stroke="#000" stroke-width="2" fill="none"/>
<text transform="scale(1.05049,1)" x="896.07" y="644.4" font-size="27.01">0</text>
<text transform="scale(1.05049,1)" x="849.67" y="591.83" font-size="27.01">0</text>
<text transform="scale(1.05049,1)" x="965.27 980.29" y="644.4" font-size="27.01">50</text>
<text transform="scale(1.05049,1)" x="834.65 849.67" y="508.74" font-size="27.01">50</text>
<text transform="scale(1.05049,1)" x="1034.21 1049.23 1064.25" y="644.4" font-size="27.01">100</text>
<text transform="scale(1.05049,1)" x="819.63 834.65 849.67" y="425.66" font-size="27.01">100</text>
<text transform="scale(1.05049,1)" x="1111.04 1126.06 1141.08" y="644.4" font-size="27.01">150</text>
<text transform="scale(1.05049,1)" x="819.63 834.65 849.67" y="342.58" font-size="27.01">150</text>
<text transform="scale(1.05049,1)" x="1188.31 1203.33 1218.35" y="644.4" font-size="27.01">200</text>
<text transform="scale(1.05049,1)" x="819.63 834.65 849.67" y="259.49" font-size="27.01">200</text>
<text transform="scale(1.05049,1)" x="1265.15 1280.17 1295.19" y="644.4" font-size="27.01">250</text>
<text transform="scale(1.05049,1)" x="819.63 834.65 849.67" y="176.41" font-size="27.01">250</text>
<text transform="scale(1.05049,1)" x="1341.95 1356.97 1371.99" y="644.4" font-size="27.01">300</text>
<text transform="scale(1.05049,1)" x="819.63 834.65 849.67" y="93.33" font-size="27.01">300</text>
<text x="818.49" y="53.8" font-size="39" textLength="21.67" lengthAdjust="spacingAndGlyphs" font-weight="bold">B</text>
<text x="842.19" y="53.8" font-size="39" textLength="9.45" lengthAdjust="spacingAndGlyphs" font-weight="bold">.</text>
<text transform="scale(1.03301,1)" x="857.17 879.29 897.11 914.92 924.02 948.01 955.37 973.2 991.04 1009.15 1017.1 1025.07 1041.66 1049.03 1068.66 1084.96 1092.37 1110.64 1121.69 1138.79 1154.14 1172.02 1190.12 1197.72 1221.71 1229.07 1247.31 1274.49 1292.75 1304.12 1322.52 1330.47 1338.1 1345.49 1366.9 1384.72 1402.85 1422 1431.49" y="43.5" font-size="32.13">Non-Globally Sclerosed Glomeruli Counts</text>
<text transform="scale(0.88113,1)" x="1064.65 1086.95 1112.4 1131.86" y="93.3" font-size="29.4">RMSE</text><text transform="scale(1.05339,1)" x="965.27 984.62 1000.98 1017.33 1025.5 1041.85 1058.2 1074.56 1082.73 1091.28 1103.65 1123 1139.35 1147.52 1163.87 1180.23 1196.58 1204.75 1212.89 1231.39 1250.74 1267.1 1283.45" y="93.3" font-size="29.4">=13.324, <tspan font-style="italic">r</tspan>=0.972, n=161</text>
<text transform="scale(1.04661,1)" x="915.01 935.29 953.1 970.6 989.15 998.81 1017.39 1027.69 1034.84 1052.34 1070.16 1079.09 1097.35 1108.15 1125.65 1143.45 1161.27 1179.11 1189.08 1199.48 1210.59 1229.45 1239.41 1257.23 1265.87 1281.28 1298.78 1316.59 1335.45 1344.72" y="682.9" font-size="32.02">Annotation ground truth counts</text>
<g transform="rotate(-90)"><text transform="scale(1.08361,1)" x="-402.54 -377.45 -359.89 -342.29 -324.5 -316.98 -308.22 -292.73 -275.19 -257.33 -238.55 -229.15" y="845.1" font-size="31.16">Model counts</text></g>
</g>
<g id="panelC">
<line x1="171" y1="1339.3" x2="654.3" y2="842.2" stroke="#e3e3e3" stroke-width="13" stroke-linecap="square"/>
<polygon points="167.6,1339.2 168,1328.8 172,1323.2 177.6,1319.2 184.8,1312.8 191.2,1309.6 194.4,1306 197.6,1309.6 200,1313.6 200.8,1323.2 195.2,1326.4 195.2,1334.4 190.4,1337.6 185.6,1343.2 169.6,1343.6" fill="#1c1c1c"/>
<g fill="#111">
<circle cx="245.2" cy="1242.4" r="3.1"/>
<circle cx="274.4" cy="1244" r="3.1"/>
<circle cx="264.8" cy="1255.6" r="3.1"/>
<circle cx="221.2" cy="1270.4" r="3.1"/>
<circle cx="237.2" cy="1268.4" r="3.1"/>
<circle cx="227.6" cy="1277.2" r="3.1"/>
<circle cx="243.6" cy="1275.2" r="3.1"/>
<circle cx="250.4" cy="1274" r="3.1"/>
<circle cx="266" cy="1274" r="3.1"/>
<circle cx="208.4" cy="1283.2" r="3.1"/>
<circle cx="193.6" cy="1290.4" r="3.1"/>
<circle cx="198.4" cy="1290.4" r="3.1"/>
<circle cx="203.2" cy="1290.4" r="3.1"/>
<circle cx="211.6" cy="1290.4" r="3.1"/>
<circle cx="199.2" cy="1296" r="3.1"/>
<circle cx="224.4" cy="1292.8" r="3.1"/>
<circle cx="224.4" cy="1296" r="3.1"/>
<circle cx="233.6" cy="1288.8" r="3.1"/>
<circle cx="233.2" cy="1293.6" r="3.1"/>
<circle cx="232.8" cy="1297.6" r="3.1"/>
<circle cx="242.4" cy="1290.4" r="3.1"/>
<circle cx="208.4" cy="1298" r="3.1"/>
<circle cx="206.8" cy="1303.2" r="3.1"/>
<circle cx="203.6" cy="1308.8" r="3.1"/>
<circle cx="215.2" cy="1303.6" r="3.1"/>
<circle cx="187.6" cy="1301.6" r="3.1"/>
<circle cx="182.4" cy="1305.2" r="3.1"/>
<circle cx="179.2" cy="1313.2" r="3.1"/>
<circle cx="207.2" cy="1317.2" r="3.1"/>
<circle cx="194" cy="1308" r="3.1"/>
<circle cx="321.1" cy="1207.6" r="3.1"/>
<circle cx="358.4" cy="1225.7" r="3.1"/>
<circle cx="282.7" cy="1215.6" r="3.1"/>
<circle cx="285.9" cy="1228.9" r="3.1"/>
<circle cx="308.3" cy="1232.1" r="3.1"/>
<circle cx="321.1" cy="1242.3" r="3.1"/>
<circle cx="333.9" cy="1076.7" r="3.1"/>
<circle cx="170.5" cy="1337" r="3.1"/>
<circle cx="172" cy="1332" r="3.1"/>
<circle cx="176" cy="1327" r="3.1"/>
<circle cx="181" cy="1322" r="3.1"/>
<circle cx="187" cy="1316" r="3.1"/>
<circle cx="193" cy="1312" r="3.1"/>
<circle cx="197" cy="1318" r="3.1"/>
<circle cx="196" cy="1326" r="3.1"/>
<circle cx="190" cy="1331" r="3.1"/>
<circle cx="183" cy="1336" r="3.1"/>
<circle cx="178" cy="1340" r="3.1"/>
<circle cx="173" cy="1341" r="3.1"/>
</g>
<rect x="147.8" y="818.1" width="530.5" height="546.9" fill="none" stroke="#000" stroke-width="2"/>
<path d="M171 1365v10M147.8 1339.3h-10M251.55 1365v10M147.8 1256.45h-10M332.1 1365v10M147.8 1173.6h-10M412.65 1365v10M147.8 1090.75h-10M493.2 1365v10M147.8 1007.9h-10M573.75 1365v10M147.8 925.05h-10M654.3 1365v10M147.8 842.2h-10" stroke="#000" stroke-width="2" fill="none"/>
<text transform="scale(1.05049,1)" x="155.28" y="1402.4" font-size="27.01">0</text>
<text transform="scale(1.05049,1)" x="109.16" y="1348.73" font-size="27.01">0</text>
<text transform="scale(1.05049,1)" x="224.31 239.33" y="1402.4" font-size="27.01">50</text>
<text transform="scale(1.05049,1)" x="94.14 109.16" y="1265.88" font-size="27.01">50</text>
<text transform="scale(1.05049,1)" x="293.09 308.11 323.13" y="1402.4" font-size="27.01">100</text>
<text transform="scale(1.05049,1)" x="79.12 94.14 109.16" y="1183.03" font-size="27.01">100</text>
<text transform="scale(1.05049,1)" x="369.77 384.79 399.81" y="1402.4" font-size="27.01">150</text>
<text transform="scale(1.05049,1)" x="79.12 94.14 109.16" y="1100.18" font-size="27.01">150</text>
<text transform="scale(1.05049,1)" x="446.88 461.9 476.92" y="1402.4" font-size="27.01">200</text>
<text transform="scale(1.05049,1)" x="79.12 94.14 109.16" y="1017.33" font-size="27.01">200</text>
<text transform="scale(1.05049,1)" x="523.56 538.58 553.6" y="1402.4" font-size="27.01">250</text>
<text transform="scale(1.05049,1)" x="79.12 94.14 109.16" y="934.48" font-size="27.01">250</text>
<text transform="scale(1.05049,1)" x="600.21 615.23 630.25" y="1402.4" font-size="27.01">300</text>
<text transform="scale(1.05049,1)" x="79.12 94.14 109.16" y="851.63" font-size="27.01">300</text>
<text x="34.32" y="819.9" font-size="39" textLength="20.77" lengthAdjust="spacingAndGlyphs" font-weight="bold">C</text>
<text x="57.1" y="819.9" font-size="39" textLength="9.84" lengthAdjust="spacingAndGlyphs" font-weight="bold">.</text>
<text transform="scale(1.04472,1)" x="136.69 160.45 167.63 185.2 202.78 220.7 228.54 236.33 252.72 259.9 279.28 295.4 302.63 320.68 331.51 348.38 363.5 381.11 399.01 406.38 430.15 437.32 455.23 482.08 500.13 511.27 529.49 537.32 544.82 552.01 573.14 590.7 608.56 627.49 636.8" y="802.7" font-size="32.13">Globally Sclerosed Glomeruli Counts</text>
<text transform="scale(0.87968,1)" x="182 204.3 229.75 249.21" y="851.5" font-size="29.4">RMSE</text><text transform="scale(1.05165,1)" x="226.96 246.31 262.66 270.83 287.19 303.54 319.89 328.06 336.62 348.98 368.33 384.69 392.86 409.21 425.56 441.91 450.08 458.22 476.73 496.08 512.43 528.78" y="851.5" font-size="29.4">=8.428, <tspan font-style="italic">r</tspan>=0.916, n=161</text>
<text transform="scale(1.04548,1)" x="172.13 192.41 210.22 227.72 246.27 255.93 274.51 284.81 291.96 309.46 327.28 336.21 354.47 365.27 382.77 400.57 418.39 436.23 446.2 456.6 467.71 486.57 496.53 514.35 522.99 538.4 555.9 573.71 592.57 601.84" y="1440.8" font-size="32.02">Annotation ground truth counts</text>
<g transform="rotate(-90)"><text transform="scale(1.08252,1)" x="-1102.88 -1077.8 -1060.24 -1042.63 -1024.85 -1017.32 -1008.56 -993.08 -975.53 -957.68 -938.89 -929.49" y="67.3" font-size="31.16">Model counts</text></g>
</g>
<g id="panelD">
<line x1="960.3" y1="1346.9" x2="1440.5" y2="851.1" stroke="#e3e3e3" stroke-width="14" stroke-linecap="square"/>
<g stroke="#000" stroke-opacity="0.4" stroke-width="1.4" fill="none">
<path d="M1209.3 965.1H1325.3"/>
<path d="M1270 922V1015.3"/>
<path d="M1270.7 998.7H1338"/>
<path d="M1305.3 964.7V1034"/>
<path d="M1236 1014.4H1330.7"/>
<path d="M1284.7 966V1063"/>
<path d="M1198.4 1064.4H1300"/>
<path d="M1252.7 1009V1122"/>
<path d="M1158.4 1078.7H1291.3"/>
<path d="M1225.3 1009V1147.3"/>
<path d="M1154.7 1081.7H1233.3"/>
<path d="M1194 1042.7V1130"/>
<path d="M1130.7 1093.3H1238.7"/>
<path d="M1184.7 1041V1146"/>
<path d="M1126 1096.4H1224.7"/>
<path d="M1174.7 1048.7V1150"/>
<path d="M1158.7 1111.3H1236.7"/>
<path d="M1197.7 1037.6V1185"/>
<path d="M1136.7 1120H1252.7"/>
<path d="M1194 1062V1178"/>
<path d="M1146.7 1128H1251.3"/>
<path d="M1198 1071V1185"/>
<path d="M1070.7 1126H1190"/>
<path d="M1130.4 1059.3V1190"/>
<path d="M1094 1132.4H1145.3"/>
<path d="M1119.3 1106V1158.8"/>
<path d="M1104.7 1146H1239.3"/>
<path d="M1172 1076V1213"/>
<path d="M1090 1152.7H1262"/>
<path d="M1176 1090V1244.7"/>
<path d="M1099.6 1152H1213.8"/>
<path d="M1156.7 1087.3V1213"/>
<path d="M1047.9 1160H1180.1"/>
<path d="M1114 1110V1245"/>
<path d="M1072.7 1161.3H1188.7"/>
<path d="M1130.7 1112V1210.6"/>
<path d="M1014.4 1165.3H1189.6"/>
<path d="M1102 1108V1222.6"/>
<path d="M1008.7 1168H1235.3"/>
<path d="M1108 1042.7V1278"/>
<path d="M965.3 1148.3H1067.3"/>
<path d="M1000.7 1059.7V1229.3"/>
<path d="M960.3 1335H986.5"/>
<path d="M960.5 973.7V1346.9"/>
<path d="M983.9 1168H1157.5"/>
<path d="M1070.7 1120.3V1215.7"/>
<path d="M999.3 1170H1151.3"/>
<path d="M1075.3 1087.7V1252.3"/>
<path d="M1038.6 1172.7H1162.8"/>
<path d="M1100.7 1102.1V1243.3"/>
<path d="M1052 1181.3H1183.3"/>
<path d="M1113.3 1086.9V1275.7"/>
<path d="M1072.1 1184.7H1145.3"/>
<path d="M1108.7 1096.4V1273"/>
<path d="M1057.3 1198.7H1186.7"/>
<path d="M1122 1168.7V1228.7"/>
<path d="M1095.9 1200H1186.7"/>
<path d="M1141.3 1170V1230"/>
<path d="M1027.5 1202H1163.1"/>
<path d="M1095.3 1105.6V1298.4"/>
<path d="M974.1 1209.3H1111.3"/>
<path d="M1042.7 1144.3V1274.3"/>
<path d="M1035.3 1208.7H1128.7"/>
<path d="M1082 1153.4V1264"/>
<path d="M971.1 1218.7H1103.5"/>
<path d="M1037.3 1173.6V1263.8"/>
<path d="M968.7 1224H1127.3"/>
<path d="M1048 1173.3V1274.7"/>
<path d="M1011.3 1216H1152.7"/>
<path d="M1082 1162.2V1269.8"/>
<path d="M1000.3 1215.3H1179.7"/>
<path d="M1090 1137.9V1292.7"/>
<path d="M1015.7 1222.7H1140.3"/>
<path d="M1078 1157.3V1288.1"/>
<path d="M1012.7 1224.7H1155.3"/>
<path d="M1084 1155.5V1293.9"/>
<path d="M1072.7 1222H1143.3"/>
<path d="M1108 1174.7V1269.3"/>
<path d="M1002.5 1231.3H1124.1"/>
<path d="M1063.3 1143V1319.6"/>
<path d="M1005 1234H1141.6"/>
<path d="M1073.3 1195.3V1272.7"/>
<path d="M987.3 1238H1143.3"/>
<path d="M1065.3 1162.7V1313.3"/>
<path d="M963.1 1238.7H1118.3"/>
<path d="M1040.7 1193.8V1283.6"/>
<path d="M999.4 1241.3H1150"/>
<path d="M1074.7 1204.2V1278.4"/>
<path d="M1009.1 1240.7H1150.9"/>
<path d="M1080 1191.4V1290"/>
<path d="M960.8 1246H1029.8"/>
<path d="M995.3 1163.7V1328.3"/>
<path d="M992.6 1248H1062"/>
<path d="M1027.3 1185.7V1310.3"/>
<path d="M960.3 1252H1120.2"/>
<path d="M1027.3 1205.6V1298.4"/>
<path d="M978.6 1257.3H1054.8"/>
<path d="M1016.7 1177.1V1337.5"/>
<path d="M978.1 1258H1079.3"/>
<path d="M1028.7 1186.8V1329.2"/>
<path d="M1024.5 1254.7H1092.9"/>
<path d="M1058.7 1202.2V1307.2"/>
<path d="M1026 1257.3H1111.4"/>
<path d="M1068.7 1188.4V1326.2"/>
<path d="M1042.6 1254H1120"/>
<path d="M1081.3 1169V1339"/>
<path d="M998 1259.2H1059.8"/>
<path d="M1028.9 1187.6V1330.8"/>
<path d="M987 1264.5H1045.2"/>
<path d="M1016.1 1219.1V1309.9"/>
<path d="M960.3 1266.7H1099.3"/>
<path d="M1014 1226.8V1306.6"/>
<path d="M997.6 1265.6H1077.4"/>
<path d="M1037.5 1197.3V1333.9"/>
<path d="M996.2 1262.4H1100"/>
<path d="M1048.1 1228.1V1296.7"/>
<path d="M960.3 1271.5H1126.7"/>
<path d="M1025.7 1232.5V1310.5"/>
<path d="M970.4 1270.4H1192"/>
<path d="M1081.2 1204.8V1336"/>
<path d="M985.1 1276.3H1113.3"/>
<path d="M1049.2 1207.8V1344.8"/>
<path d="M960.3 1280.5H1179.6"/>
<path d="M1063.6 1223.4V1337.6"/>
<path d="M970.8 1274.7H1024.2"/>
<path d="M997.5 1220.9V1328.5"/>
<path d="M960.3 1273.1H1097.2"/>
<path d="M1014.5 1204V1342.2"/>
<path d="M960.3 1284.3H1038.6"/>
<path d="M973.5 1197.1V1346.9"/>
<path d="M968.3 1285.9H1120.5"/>
<path d="M1044.4 1202.5V1346.9"/>
<path d="M1016.7 1299.2H1128.7"/>
<path d="M1072.7 1264.5V1333.9"/>
<path d="M976.6 1310.9H1106.8"/>
<path d="M1041.7 1282.1V1339.7"/>
<path d="M986.7 1310.9H1201.3"/>
<path d="M1094 1276.8V1345"/>
<path d="M968 1321.6H1109"/>
<path d="M1038.5 1296V1347.2"/>
<path d="M960.3 1304H1085.6"/>
<path d="M1014 1246V1346.9"/>
<path d="M962.2 1314.7H1065.8"/>
<path d="M1014 1285.9V1343.5"/>
<path d="M960.3 1329.6H1085.8"/>
<path d="M999.1 1314.7V1344.5"/>
<path d="M960.3 1314.7H1011.9"/>
<path d="M966.5 1259.3V1346.9"/>
<path d="M960.3 1305.1H1013.3"/>
<path d="M983.1 1237.9V1346.9"/>
<path d="M960.3 1328.5H981.6"/>
<path d="M960.7 1297.2V1346.9"/>
<path d="M960.3 1346.1H1035.3"/>
<path d="M975.1 1322.9V1346.9"/>
<path d="M960.9 1346.1H1015.9"/>
<path d="M988.4 1308.5V1346.9"/>
<path d="M960.3 1347.7H992"/>
<path d="M960.7 1306.9V1346.9"/>
<path d="M960.3 1295.5H1069"/>
<path d="M989.5 1198V1346.9"/>
<path d="M960.3 1288H1037"/>
<path d="M992.7 1237.1V1338.9"/>
<path d="M971 1282.7H1048.4"/>
<path d="M1009.7 1223.4V1342"/>
<path d="M960.3 1280.5H1073.1"/>
<path d="M1003.3 1189.1V1346.9"/>
<path d="M960.3 1292.3H1073.4"/>
<path d="M1000.1 1251.4V1333.2"/>
<path d="M960.3 1342.3H983.7"/>
<path d="M958.1 1300.8V1346.9"/>
<path d="M960.3 1339.4H987.6"/>
<path d="M965.4 1314V1346.9"/>
<path d="M960.3 1335.4H1014"/>
<path d="M971.6 1304.6V1346.9"/>
<path d="M960.3 1327.4H1030.6"/>
<path d="M973.4 1286.8V1346.9"/>
<path d="M960.3 1321.1H1008.8"/>
<path d="M976.9 1280.9V1346.9"/>
<path d="M960.3 1318.2H1025.4"/>
<path d="M984.2 1274.9V1346.9"/>
<path d="M960.3 1314.2H1049"/>
<path d="M990.4 1256.1V1346.9"/>
<path d="M960.3 1306.2H1040.3"/>
<path d="M992.2 1234.7V1346.9"/>
<path d="M961.8 1299.9H1029.7"/>
<path d="M995.7 1209.9V1346.9"/>
<path d="M960.3 1297H1092.1"/>
<path d="M1003 1216.3V1346.9"/>
<path d="M962.4 1293H1056.1"/>
<path d="M1009.2 1240.1V1345.9"/>
</g>
<g fill="#111">
<circle cx="1270" cy="965.1" r="3.45"/>
<circle cx="1305.3" cy="998.7" r="3.45"/>
<circle cx="1284.7" cy="1014.4" r="3.45"/>
<circle cx="1252.7" cy="1064.4" r="3.45"/>
<circle cx="1225.3" cy="1078.7" r="3.45"/>
<circle cx="1194" cy="1081.7" r="3.45"/>
<circle cx="1184.7" cy="1093.3" r="3.45"/>
<circle cx="1174.7" cy="1096.4" r="3.45"/>
<circle cx="1197.7" cy="1111.3" r="3.45"/>
<circle cx="1194" cy="1120" r="3.45"/>
<circle cx="1198" cy="1128" r="3.45"/>
<circle cx="1130.4" cy="1126" r="3.45"/>
<circle cx="1119.3" cy="1132.4" r="3.45"/>
<circle cx="1172" cy="1146" r="3.45"/>
<circle cx="1176" cy="1152.7" r="3.45"/>
<circle cx="1156.7" cy="1152" r="3.45"/>
<circle cx="1114" cy="1160" r="3.45"/>
<circle cx="1130.7" cy="1161.3" r="3.45"/>
<circle cx="1102" cy="1165.3" r="3.45"/>
<circle cx="1108" cy="1168" r="3.45"/>
<circle cx="1000.7" cy="1148.3" r="3.45"/>
<circle cx="960.5" cy="1335" r="3.45"/>
<circle cx="1070.7" cy="1168" r="3.45"/>
<circle cx="1075.3" cy="1170" r="3.45"/>
<circle cx="1100.7" cy="1172.7" r="3.45"/>
<circle cx="1113.3" cy="1181.3" r="3.45"/>
<circle cx="1108.7" cy="1184.7" r="3.45"/>
<circle cx="1122" cy="1198.7" r="3.45"/>
<circle cx="1141.3" cy="1200" r="3.45"/>
<circle cx="1095.3" cy="1202" r="3.45"/>
<circle cx="1042.7" cy="1209.3" r="3.45"/>
<circle cx="1082" cy="1208.7" r="3.45"/>
<circle cx="1037.3" cy="1218.7" r="3.45"/>
<circle cx="1048" cy="1224" r="3.45"/>
<circle cx="1082" cy="1216" r="3.45"/>
<circle cx="1090" cy="1215.3" r="3.45"/>
<circle cx="1078" cy="1222.7" r="3.45"/>
<circle cx="1084" cy="1224.7" r="3.45"/>
<circle cx="1108" cy="1222" r="3.45"/>
<circle cx="1063.3" cy="1231.3" r="3.45"/>
<circle cx="1073.3" cy="1234" r="3.45"/>
<circle cx="1065.3" cy="1238" r="3.45"/>
<circle cx="1040.7" cy="1238.7" r="3.45"/>
<circle cx="1074.7" cy="1241.3" r="3.45"/>
<circle cx="1080" cy="1240.7" r="3.45"/>
<circle cx="995.3" cy="1246" r="3.45"/>
<circle cx="1027.3" cy="1248" r="3.45"/>
<circle cx="1027.3" cy="1252" r="3.45"/>
<circle cx="1016.7" cy="1257.3" r="3.45"/>
<circle cx="1028.7" cy="1258" r="3.45"/>
<circle cx="1058.7" cy="1254.7" r="3.45"/>
<circle cx="1068.7" cy="1257.3" r="3.45"/>
<circle cx="1081.3" cy="1254" r="3.45"/>
<circle cx="1028.9" cy="1259.2" r="3.45"/>
<circle cx="1016.1" cy="1264.5" r="3.45"/>
<circle cx="1014" cy="1266.7" r="3.45"/>
<circle cx="1037.5" cy="1265.6" r="3.45"/>
<circle cx="1048.1" cy="1262.4" r="3.45"/>
<circle cx="1025.7" cy="1271.5" r="3.45"/>
<circle cx="1081.2" cy="1270.4" r="3.45"/>
<circle cx="1049.2" cy="1276.3" r="3.45"/>
<circle cx="1063.6" cy="1280.5" r="3.45"/>
<circle cx="997.5" cy="1274.7" r="3.45"/>
<circle cx="1014.5" cy="1273.1" r="3.45"/>
<circle cx="973.5" cy="1284.3" r="3.45"/>
<circle cx="1044.4" cy="1285.9" r="3.45"/>
<circle cx="1072.7" cy="1299.2" r="3.45"/>
<circle cx="1041.7" cy="1310.9" r="3.45"/>
<circle cx="1094" cy="1310.9" r="3.45"/>
<circle cx="1038.5" cy="1321.6" r="3.45"/>
<circle cx="1014" cy="1304" r="3.45"/>
<circle cx="1014" cy="1314.7" r="3.45"/>
<circle cx="999.1" cy="1329.6" r="3.45"/>
<circle cx="966.5" cy="1314.7" r="3.45"/>
<circle cx="983.1" cy="1305.1" r="3.45"/>
<circle cx="960.7" cy="1328.5" r="3.45"/>
<circle cx="975.1" cy="1346.1" r="3.45"/>
<circle cx="988.4" cy="1346.1" r="3.45"/>
<circle cx="960.7" cy="1347.7" r="3.45"/>
<circle cx="989.5" cy="1295.5" r="3.45"/>
<circle cx="992.7" cy="1288" r="3.45"/>
<circle cx="1009.7" cy="1282.7" r="3.45"/>
<circle cx="1003.3" cy="1280.5" r="3.45"/>
<circle cx="1000.1" cy="1292.3" r="3.45"/>
<circle cx="958.1" cy="1342.3" r="3.45"/>
<circle cx="965.4" cy="1339.4" r="3.45"/>
<circle cx="971.6" cy="1335.4" r="3.45"/>
<circle cx="973.4" cy="1327.4" r="3.45"/>
<circle cx="976.9" cy="1321.1" r="3.45"/>
<circle cx="984.2" cy="1318.2" r="3.45"/>
<circle cx="990.4" cy="1314.2" r="3.45"/>
<circle cx="992.2" cy="1306.2" r="3.45"/>
<circle cx="995.7" cy="1299.9" r="3.45"/>
<circle cx="1003" cy="1297" r="3.45"/>
<circle cx="1009.2" cy="1293" r="3.45"/>
<circle cx="957.76" cy="1342.01" r="3.45"/>
<circle cx="962.04" cy="1341.7" r="3.45"/>
<circle cx="966.33" cy="1341.38" r="3.45"/>
<circle cx="963.89" cy="1335.1" r="3.45"/>
<circle cx="968.17" cy="1334.78" r="3.45"/>
<circle cx="972.46" cy="1334.47" r="3.45"/>
<circle cx="970.02" cy="1328.18" r="3.45"/>
<circle cx="974.3" cy="1327.87" r="3.45"/>
<circle cx="978.59" cy="1327.56" r="3.45"/>
<circle cx="976.15" cy="1321.27" r="3.45"/>
<circle cx="980.43" cy="1320.96" r="3.45"/>
<circle cx="984.72" cy="1320.64" r="3.45"/>
<circle cx="982.28" cy="1314.36" r="3.45"/>
<circle cx="986.57" cy="1314.04" r="3.45"/>
<circle cx="990.85" cy="1313.73" r="3.45"/>
<circle cx="988.41" cy="1307.44" r="3.45"/>
<circle cx="992.7" cy="1307.13" r="3.45"/>
<circle cx="996.98" cy="1306.82" r="3.45"/>
<circle cx="994.54" cy="1300.53" r="3.45"/>
<circle cx="998.83" cy="1300.22" r="3.45"/>
<circle cx="1003.11" cy="1299.9" r="3.45"/>
<circle cx="1000.67" cy="1293.62" r="3.45"/>
<circle cx="1004.96" cy="1293.3" r="3.45"/>
<circle cx="1009.24" cy="1292.99" r="3.45"/>
</g>
<rect x="936.5" y="827.5" width="529.4" height="543.2" fill="none" stroke="#000" stroke-width="2"/>
<path d="M960.3 1370.7v10M936.5 1346.9h-10M1056.34 1370.7v10M936.5 1247.74h-10M1152.38 1370.7v10M936.5 1148.58h-10M1248.42 1370.7v10M936.5 1049.42h-10M1344.46 1370.7v10M936.5 950.26h-10M1440.5 1370.7v10M936.5 851.1h-10" stroke="#000" stroke-width="2" fill="none"/>
<text transform="scale(1.05049,1)" x="906.02" y="1409.6" font-size="29.24">0</text>
<text transform="scale(1.05049,1)" x="857.88" y="1357.1" font-size="29.24">0</text>
<text transform="scale(1.05049,1)" x="989.22 1005.48" y="1409.6" font-size="29.24">20</text>
<text transform="scale(1.05049,1)" x="841.62 857.88" y="1257.94" font-size="29.24">20</text>
<text transform="scale(1.05049,1)" x="1080.95 1097.22" y="1409.6" font-size="29.24">40</text>
<text transform="scale(1.05049,1)" x="841.62 857.88" y="1158.78" font-size="29.24">40</text>
<text transform="scale(1.05049,1)" x="1172.11 1188.37" y="1409.6" font-size="29.24">60</text>
<text transform="scale(1.05049,1)" x="841.62 857.88" y="1059.62" font-size="29.24">60</text>
<text transform="scale(1.05049,1)" x="1263.56 1279.82" y="1409.6" font-size="29.24">80</text>
<text transform="scale(1.05049,1)" x="841.62 857.88" y="960.46" font-size="29.24">80</text>
<text transform="scale(1.05049,1)" x="1346.31 1362.58 1378.84" y="1409.6" font-size="29.24">100</text>
<text transform="scale(1.05049,1)" x="825.36 841.62 857.88" y="861.3" font-size="29.24">100</text>
<text x="775.32" y="811.2" font-size="39" textLength="25.67" lengthAdjust="spacingAndGlyphs" font-weight="bold">D</text>
<text x="800.76" y="811.2" font-size="39" textLength="11.22" lengthAdjust="spacingAndGlyphs" font-weight="bold">.</text>
<text transform="scale(1.01522,1)" x="915.57 936.29 955.97 967.96 985.01 1004.32 1024.93 1035.9 1044.24 1070.01 1078.05 1097.32 1116.6 1136.08 1144.33 1152.67 1178.44 1186.48 1206.26 1235.56 1255.24 1267.57 1287.37 1295.41 1313.88 1330.43 1347.97 1356.06 1375.74 1387.73 1406.2 1423.3 1430.9" y="810.1" font-size="34.19">Percent Global Glomerulosclerosis</text>
<text transform="scale(0.87592,1)" x="1084.27 1108.1 1135.29 1156.08" y="861.7" font-size="31.42">RMSE</text><text transform="scale(1.04716,1)" x="986.8 1007.48 1024.95 1033.68 1051.16 1068.63 1086.1 1094.83 1103.98 1117.19 1137.86 1155.34 1164.07 1181.54 1199.01 1216.49 1225.22 1233.91 1253.68 1274.36 1291.84 1309.31" y="861.7" font-size="31.42">=5.268, <tspan font-style="italic">r</tspan>=0.944, n=161</text>
<text transform="scale(1.04352,1)" x="968.42 990.09 1009.11 1027.79 1047.61 1057.93 1077.77 1088.77 1096.41 1115.09 1134.13 1143.66 1163.17 1174.7 1193.39 1212.41 1231.44 1250.49 1261.14 1272.25 1284.11 1304.26 1314.89" y="1451.5" font-size="34.19">Annotation ground truth</text>
<text transform="scale(1.04932,1)" x="929.72 949.11 956.73 975.42 994.12 1013.19 1021.16 1030.69 1050.08 1057.71 1076.75 1105.31 1124.51 1136.36 1155.74 1163.36 1181.31 1197.36 1214.52 1222.19 1241.4 1252.92 1270.86 1287.58 1294.81 1311.18 1320.71 1329.27" y="1486.7" font-size="34.19">global glomerulosclerosis, %</text>
<g transform="rotate(-90)"><text transform="scale(1.10687,1)" x="-1038.56 -1011.77 -993.01 -974.21 -955.21" y="816.8" font-size="33.28">Model</text></g>
<g transform="rotate(-90)"><text transform="scale(1.11013,1)" x="-1198.76 -1179.89 -1172.46 -1154.27 -1136.07 -1117.51 -1109.75 -1100.48 -1081.6 -1074.18 -1055.65 -1027.85 -1009.16 -997.62 -978.76 -971.34 -953.87 -938.25 -921.55 -914.07 -895.38 -884.17 -866.7 -850.42 -843.39 -827.45 -818.18 -809.84" y="852.4" font-size="33.28">global glomerulosclerosis, %</text></g>
</g>
<g id="panelE">
<line x1="166" y1="2128.4" x2="647.3" y2="1631.1" stroke="#e3e3e3" stroke-width="13" stroke-linecap="square"/>
<g fill="#111">
<circle cx="178.5" cy="2112.4" r="3.1"/>
<circle cx="181.1" cy="2112.1" r="3.1"/>
<circle cx="183.7" cy="2111.7" r="3.1"/>
<circle cx="186.4" cy="2111.4" r="3.1"/>
<circle cx="186.6" cy="2108.3" r="3.1"/>
<circle cx="186.8" cy="2105.2" r="3.1"/>
<circle cx="189.5" cy="2104.8" r="3.1"/>
<circle cx="192.1" cy="2104.4" r="3.1"/>
<circle cx="194.8" cy="2104.1" r="3.1"/>
<circle cx="193.6" cy="2099.3" r="3.1"/>
<circle cx="196.2" cy="2099" r="3.1"/>
<circle cx="198.8" cy="2098.6" r="3.1"/>
<circle cx="201.4" cy="2098.3" r="3.1"/>
<circle cx="201.7" cy="2095.2" r="3.1"/>
<circle cx="201.9" cy="2092.1" r="3.1"/>
<circle cx="204.5" cy="2091.8" r="3.1"/>
<circle cx="207.1" cy="2091.4" r="3.1"/>
<circle cx="209.8" cy="2091.1" r="3.1"/>
<circle cx="208.6" cy="2086.3" r="3.1"/>
<circle cx="211.2" cy="2086" r="3.1"/>
<circle cx="213.8" cy="2085.6" r="3.1"/>
<circle cx="216.4" cy="2085.3" r="3.1"/>
<circle cx="216.7" cy="2082.2" r="3.1"/>
<circle cx="216.9" cy="2079.1" r="3.1"/>
<circle cx="219.5" cy="2078.8" r="3.1"/>
<circle cx="222.1" cy="2078.4" r="3.1"/>
<circle cx="224.8" cy="2078.1" r="3.1"/>
<circle cx="223.5" cy="2073.4" r="3.1"/>
<circle cx="226.2" cy="2072.9" r="3.1"/>
<circle cx="228.8" cy="2072.4" r="3.1"/>
<circle cx="231.5" cy="2071.9" r="3.1"/>
<circle cx="231.7" cy="2068.8" r="3.1"/>
<circle cx="231.8" cy="2065.6" r="3.1"/>
<circle cx="234.5" cy="2065.2" r="3.1"/>
<circle cx="237.1" cy="2064.6" r="3.1"/>
<circle cx="239.8" cy="2064.2" r="3.1"/>
<circle cx="238.5" cy="2059.4" r="3.1"/>
<circle cx="241.2" cy="2058.9" r="3.1"/>
<circle cx="243.9" cy="2058.4" r="3.1"/>
<circle cx="246.6" cy="2057.9" r="3.1"/>
<circle cx="246.9" cy="2054.7" r="3.1"/>
<circle cx="247.1" cy="2051.5" r="3.1"/>
<circle cx="249.8" cy="2051.1" r="3.1"/>
<circle cx="250.4" cy="2048.5" r="3.1"/>
<circle cx="253.1" cy="2047.7" r="3.1"/>
<circle cx="255.9" cy="2046.8" r="3.1"/>
<circle cx="258.6" cy="2046" r="3.1"/>
<circle cx="258.7" cy="2042.7" r="3.1"/>
<circle cx="258.7" cy="2039.4" r="3.1"/>
<circle cx="260.2" cy="2037.7" r="3.1"/>
<circle cx="262.8" cy="2036.8" r="3.1"/>
<circle cx="265.2" cy="2035.7" r="3.1"/>
<circle cx="267.8" cy="2034.8" r="3.1"/>
<circle cx="267.3" cy="2031.7" r="3.1"/>
<circle cx="266.9" cy="2028.5" r="3.1"/>
<circle cx="268.3" cy="2026.6" r="3.1"/>
<circle cx="270.9" cy="2025.8" r="3.1"/>
<circle cx="273.4" cy="2025" r="3.1"/>
<circle cx="276" cy="2024.3" r="3.1"/>
<circle cx="275.7" cy="2021.1" r="3.1"/>
<circle cx="275.5" cy="2018" r="3.1"/>
<circle cx="278" cy="2017.3" r="3.1"/>
<circle cx="278.4" cy="2014.5" r="3.1"/>
<circle cx="281.1" cy="2013.8" r="3.1"/>
<circle cx="283.7" cy="2013" r="3.1"/>
<circle cx="286.5" cy="2012.3" r="3.1"/>
<circle cx="286.4" cy="2009" r="3.1"/>
<circle cx="286.4" cy="2005.8" r="3.1"/>
<circle cx="289.2" cy="2005.1" r="3.1"/>
<circle cx="291.8" cy="2004.3" r="3.1"/>
<circle cx="300.8" cy="2016.6" r="3.1"/>
<circle cx="279.8" cy="2029.7" r="3.1"/>
<circle cx="271.9" cy="2034.8" r="3.1"/>
<circle cx="275.1" cy="2053" r="3.1"/>
<circle cx="252.3" cy="2064.7" r="3.1"/>
<circle cx="256" cy="2126.3" r="3.1"/>
<circle cx="280.7" cy="2019.9" r="3.1"/>
<circle cx="261.1" cy="2046" r="3.1"/>
<circle cx="254.1" cy="2051.6" r="3.1"/>
<circle cx="214.5" cy="2091.3" r="3.1"/>
<circle cx="207.5" cy="2098.3" r="3.1"/>
<circle cx="220.1" cy="2084.7" r="3.1"/>
<circle cx="205.6" cy="2077.3" r="3.1"/>
<circle cx="233" cy="2064" r="3.1"/>
<circle cx="238" cy="2062" r="3.1"/>
<circle cx="246" cy="2056" r="3.1"/>
<circle cx="230" cy="2072" r="3.1"/>
<circle cx="436.3" cy="1860.7" r="3.1"/>
<circle cx="416" cy="1882.5" r="3.1"/>
<circle cx="416" cy="1884.1" r="3.1"/>
<circle cx="408.5" cy="1903.9" r="3.1"/>
<circle cx="381.3" cy="1916.7" r="3.1"/>
<circle cx="355.7" cy="1925.2" r="3.1"/>
<circle cx="371.7" cy="1928.4" r="3.1"/>
<circle cx="362.1" cy="1938.5" r="3.1"/>
<circle cx="346.1" cy="1941.7" r="3.1"/>
<circle cx="352.5" cy="1941.7" r="3.1"/>
<circle cx="349.3" cy="1953.5" r="3.1"/>
<circle cx="355.7" cy="1963.1" r="3.1"/>
<circle cx="330.1" cy="1956.7" r="3.1"/>
<circle cx="332.3" cy="1957.7" r="3.1"/>
<circle cx="339.7" cy="1955.6" r="3.1"/>
<circle cx="340.3" cy="1958.8" r="3.1"/>
<circle cx="337.6" cy="1963.6" r="3.1"/>
<circle cx="320.5" cy="1961.5" r="3.1"/>
<circle cx="314.1" cy="1979.6" r="3.1"/>
<circle cx="317.3" cy="1982.8" r="3.1"/>
<circle cx="320.5" cy="1986.5" r="3.1"/>
<circle cx="306.7" cy="1985.5" r="3.1"/>
<circle cx="304.5" cy="1988.7" r="3.1"/>
<circle cx="302.4" cy="1992.9" r="3.1"/>
<circle cx="308.8" cy="1992.9" r="3.1"/>
<circle cx="301.3" cy="1998.3" r="3.1"/>
<circle cx="290.7" cy="2003.6" r="3.1"/>
<circle cx="284.3" cy="2006.8" r="3.1"/>
<circle cx="614.8" cy="1717.9" r="3.1"/>
<circle cx="513.3" cy="1785.8" r="3.1"/>
<circle cx="495.5" cy="1799.3" r="3.1"/>
<circle cx="465.2" cy="1807.5" r="3.1"/>
<circle cx="474.6" cy="1817" r="3.1"/>
<circle cx="471.3" cy="1824.4" r="3.1"/>
<circle cx="459.9" cy="1837.6" r="3.1"/>
<circle cx="465.2" cy="1839" r="3.1"/>
<circle cx="436.1" cy="1860.3" r="3.1"/>
<circle cx="342.4" cy="2019.4" r="3.1"/>
</g>
<rect x="142.7" y="1607.3" width="530.5" height="547.4" fill="none" stroke="#000" stroke-width="2"/>
<path d="M166 2154.7v10M142.7 2128.4h-10M246.22 2154.7v10M142.7 2045.52h-10M326.43 2154.7v10M142.7 1962.63h-10M406.65 2154.7v10M142.7 1879.75h-10M486.87 2154.7v10M142.7 1796.87h-10M567.08 2154.7v10M142.7 1713.98h-10M647.3 2154.7v10M142.7 1631.1h-10" stroke="#000" stroke-width="2" fill="none"/>
<text transform="scale(1.05049,1)" x="150.52" y="2190.4" font-size="27.01">0</text>
<text transform="scale(1.05049,1)" x="103.45" y="2137.83" font-size="27.01">0</text>
<text transform="scale(1.05049,1)" x="219.24 234.26" y="2190.4" font-size="27.01">50</text>
<text transform="scale(1.05049,1)" x="88.43 103.45" y="2054.94" font-size="27.01">50</text>
<text transform="scale(1.05049,1)" x="287.7 302.72 317.74" y="2190.4" font-size="27.01">100</text>
<text transform="scale(1.05049,1)" x="73.4 88.43 103.45" y="1972.06" font-size="27.01">100</text>
<text transform="scale(1.05049,1)" x="364.06 379.08 394.1" y="2190.4" font-size="27.01">150</text>
<text transform="scale(1.05049,1)" x="73.4 88.43 103.45" y="1889.18" font-size="27.01">150</text>
<text transform="scale(1.05049,1)" x="440.85 455.87 470.89" y="2190.4" font-size="27.01">200</text>
<text transform="scale(1.05049,1)" x="73.4 88.43 103.45" y="1806.29" font-size="27.01">200</text>
<text transform="scale(1.05049,1)" x="517.22 532.24 547.26" y="2190.4" font-size="27.01">250</text>
<text transform="scale(1.05049,1)" x="73.4 88.43 103.45" y="1723.41" font-size="27.01">250</text>
<text transform="scale(1.05049,1)" x="593.54 608.56 623.58" y="2190.4" font-size="27.01">300</text>
<text transform="scale(1.05049,1)" x="73.4 88.43 103.45" y="1640.53" font-size="27.01">300</text>
<text x="52.31" y="1592.6" font-size="39" textLength="17.83" lengthAdjust="spacingAndGlyphs" font-weight="bold">E</text>
<text x="72.45" y="1592.6" font-size="39" textLength="10.04" lengthAdjust="spacingAndGlyphs" font-weight="bold">.</text>
<text transform="scale(1.03336,1)" x="98.19 120.31 138.13 155.94 165.04 189.03 196.39 214.22 232.07 250.17 258.12 266.1 282.68 290.05 309.68 325.98 333.39 351.66 362.71 379.81 395.16 413.05 431.14 438.74 462.73 470.09 488.33 515.51 533.78 545.14 563.54 571.49 579.12 586.52 607.92 625.74 643.87 663.02 672.51" y="1591.9" font-size="32.13">Non-Globally Sclerosed Glomeruli Counts</text>
<text transform="scale(0.87817,1)" x="176.17 198.47 223.91 243.37" y="1639.9" font-size="29.4">RMSE</text><text transform="scale(1.04985,1)" x="222.08 241.43 257.79 265.96 282.31 298.66 315.01 323.18 331.74 344.1 363.46 379.81 387.98 404.33 420.68 437.04 445.21 453.34 471.85 491.2 507.55 523.91" y="1639.9" font-size="29.4">=7.811, <tspan font-style="italic">r</tspan>=0.988, n=161</text>
<text transform="scale(1.04435,1)" x="167.24 187.53 205.33 222.83 241.39 251.05 269.62 279.92 287.07 304.57 322.39 331.32 349.58 360.38 377.88 395.68 413.5 431.34 441.31 451.71 462.82 481.69 491.64 509.47 518.1 533.52 551.01 568.82 587.69 596.96" y="2229.9" font-size="32.02">Annotation ground truth counts</text>
<g transform="rotate(-90)"><text transform="scale(1.08252,1)" x="-1831.46 -1806.37 -1788.81 -1771.21 -1753.42 -1745.9 -1737.14 -1721.65 -1704.11 -1686.25 -1667.47 -1658.07" y="61.7" font-size="31.16">Model counts</text></g>
</g>
<g id="panelF">
<line x1="942.1" y1="2118.6" x2="1424.5" y2="1622" stroke="#e3e3e3" stroke-width="13" stroke-linecap="square"/>
<polygon points="938.6,2122.4 939,2113.2 942.2,2107.2 947,2103.2 951.8,2098 956.6,2088 959.8,2086.4 969,2085.6 971.8,2082.4 974.6,2079.2 979,2077.6 980.2,2087.2 976.6,2091.2 971.8,2092 971,2096 967,2100 966.2,2104 963,2108 966.2,2112 960.6,2116 953.4,2116.8 947,2120 941,2123.2" fill="#1c1c1c"/>
<g fill="#111">
<circle cx="1045.3" cy="2000.8" r="3.1"/>
<circle cx="1056.5" cy="2009.1" r="3.1"/>
<circle cx="1016.2" cy="2017.3" r="3.1"/>
<circle cx="1003.2" cy="2023.8" r="3.1"/>
<circle cx="1035.3" cy="2023.8" r="3.1"/>
<circle cx="1008" cy="2035.5" r="3.1"/>
<circle cx="998.5" cy="2043.7" r="3.1"/>
<circle cx="992" cy="2050.7" r="3.1"/>
<circle cx="1014.5" cy="2050.7" r="3.1"/>
<circle cx="1037" cy="2047.2" r="3.1"/>
<circle cx="1003.2" cy="2055.4" r="3.1"/>
<circle cx="982.4" cy="2067.1" r="3.1"/>
<circle cx="995.4" cy="2065.4" r="3.1"/>
<circle cx="1005" cy="2068.9" r="3.1"/>
<circle cx="1005" cy="2073.6" r="3.1"/>
<circle cx="1013.2" cy="2068.4" r="3.1"/>
<circle cx="1021" cy="2065.4" r="3.1"/>
<circle cx="964.7" cy="2073.2" r="3.1"/>
<circle cx="969.9" cy="2078.4" r="3.1"/>
<circle cx="985.5" cy="2076.7" r="3.1"/>
<circle cx="949.9" cy="2091.4" r="3.1"/>
<circle cx="945.2" cy="2099.2" r="3.1"/>
<circle cx="962.1" cy="2112.2" r="3.1"/>
<circle cx="977.2" cy="2087.9" r="3.1"/>
<circle cx="1104.6" cy="1867.9" r="3.1"/>
<circle cx="1129.5" cy="1923.3" r="3.1"/>
<circle cx="1053.2" cy="1977.4" r="3.1"/>
<circle cx="1078.7" cy="2004" r="3.1"/>
<circle cx="1091.6" cy="2015.9" r="3.1"/>
<circle cx="1091.6" cy="2024.1" r="3.1"/>
<circle cx="945" cy="2099.6" r="3.1"/>
<circle cx="950.2" cy="2091.6" r="3.1"/>
<circle cx="964.6" cy="2073.6" r="3.1"/>
<circle cx="970" cy="2078.4" r="3.1"/>
<circle cx="975" cy="2076.4" r="3.1"/>
<circle cx="982.6" cy="2076.4" r="3.1"/>
<circle cx="959.6" cy="2113.2" r="3.1"/>
<circle cx="945" cy="2106" r="3.1"/>
<circle cx="949" cy="2101" r="3.1"/>
<circle cx="953" cy="2096" r="3.1"/>
<circle cx="957" cy="2092" r="3.1"/>
<circle cx="962" cy="2089" r="3.1"/>
<circle cx="943" cy="2111" r="3.1"/>
<circle cx="966" cy="2097" r="3.1"/>
<circle cx="972" cy="2089" r="3.1"/>
</g>
<rect x="917.3" y="1596" width="532.6" height="546.7" fill="none" stroke="#000" stroke-width="2"/>
<path d="M942.1 2142.7v10M917.3 2118.6h-8.3M1022.5 2142.7v10M917.3 2035.83h-8.3M1102.9 2142.7v10M917.3 1953.07h-8.3M1183.3 2142.7v10M917.3 1870.3h-8.3M1263.7 2142.7v10M917.3 1787.53h-8.3M1344.1 2142.7v10M917.3 1704.77h-8.3M1424.5 2142.7v10M917.3 1622h-8.3" stroke="#000" stroke-width="2" fill="none"/>
<text transform="scale(1.05049,1)" x="889.31" y="2181" font-size="27.01">0</text>
<text transform="scale(1.05049,1)" x="842.34" y="2128.03" font-size="27.01">0</text>
<text transform="scale(1.05049,1)" x="958.21 973.23" y="2181" font-size="27.01">50</text>
<text transform="scale(1.05049,1)" x="827.32 842.34" y="2045.26" font-size="27.01">50</text>
<text transform="scale(1.05049,1)" x="1026.85 1041.87 1056.89" y="2181" font-size="27.01">100</text>
<text transform="scale(1.05049,1)" x="812.3 827.32 842.34" y="1962.49" font-size="27.01">100</text>
<text transform="scale(1.05049,1)" x="1103.38 1118.4 1133.42" y="2181" font-size="27.01">150</text>
<text transform="scale(1.05049,1)" x="812.3 827.32 842.34" y="1879.73" font-size="27.01">150</text>
<text transform="scale(1.05049,1)" x="1180.35 1195.37 1210.39" y="2181" font-size="27.01">200</text>
<text transform="scale(1.05049,1)" x="812.3 827.32 842.34" y="1796.96" font-size="27.01">200</text>
<text transform="scale(1.05049,1)" x="1256.88 1271.9 1286.92" y="2181" font-size="27.01">250</text>
<text transform="scale(1.05049,1)" x="812.3 827.32 842.34" y="1714.19" font-size="27.01">250</text>
<text transform="scale(1.05049,1)" x="1333.39 1348.41 1363.43" y="2181" font-size="27.01">300</text>
<text transform="scale(1.05049,1)" x="812.3 827.32 842.34" y="1631.43" font-size="27.01">300</text>
<text x="804.65" y="1581.3" font-size="39" textLength="16.86" lengthAdjust="spacingAndGlyphs" font-weight="bold">F</text>
<text x="820.25" y="1581.3" font-size="39" textLength="10.04" lengthAdjust="spacingAndGlyphs" font-weight="bold">.</text>
<text transform="scale(1.04433,1)" x="874.44 898.2 905.38 922.95 940.53 958.45 966.28 974.08 990.47 997.65 1017.02 1033.15 1040.38 1058.43 1069.26 1086.13 1101.24 1118.86 1136.76 1144.13 1167.9 1175.07 1192.98 1219.83 1237.88 1249.02 1267.24 1275.07 1282.57 1289.76 1310.89 1328.45 1346.31 1365.24 1374.54" y="1581.3" font-size="32.13">Globally Sclerosed Glomeruli Counts</text>
<text transform="scale(0.87946,1)" x="1058.26 1080.56 1106.01 1125.47" y="1629.3" font-size="29.4">RMSE</text><text transform="scale(1.05139,1)" x="959.93 979.28 995.63 1003.8 1020.16 1036.51 1052.86 1061.03 1069.59 1081.95 1101.3 1117.66 1125.83 1142.18 1158.53 1174.88 1183.05 1191.19 1209.7 1229.05 1245.4 1261.75" y="1629.3" font-size="29.4">=7.306, <tspan font-style="italic">r</tspan>=0.941, n=161</text>
<text transform="scale(1.04299,1)" x="912.72 933.01 950.81 968.31 986.87 996.53 1015.1 1025.4 1032.55 1050.05 1067.87 1076.8 1095.06 1105.86 1123.36 1141.16 1158.98 1176.82 1186.79 1197.19 1208.3 1227.17 1237.12 1254.95 1263.58 1279 1296.49 1314.3 1333.17 1342.44" y="2218.7" font-size="32.02">Annotation ground truth counts</text>
<g transform="rotate(-90)"><text transform="scale(1.08252,1)" x="-1822.31 -1797.23 -1779.67 -1762.06 -1744.28 -1736.76 -1728 -1712.51 -1694.96 -1677.11 -1658.32 -1648.92" y="838.6" font-size="31.16">Model counts</text></g>
</g>
</svg>
</body></html>
